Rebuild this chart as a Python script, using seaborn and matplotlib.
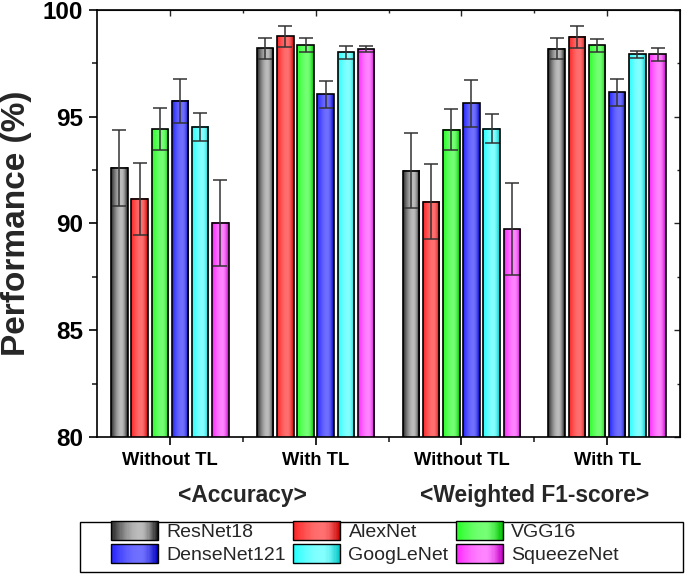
import numpy as np
import pandas as pd
import matplotlib
matplotlib.use("Agg")
import matplotlib.pyplot as plt
from matplotlib.patches import Rectangle, Patch
from matplotlib.legend_handler import HandlerBase
from matplotlib.colors import to_rgb
from matplotlib.ticker import MultipleLocator, FixedLocator
import seaborn as sns

# ---------------- data ----------------
models = ["ResNet18", "AlexNet", "VGG16", "DenseNet121", "GoogLeNet", "SqueezeNet"]
groups = ["Accuracy|Without TL", "Accuracy|With TL", "F1|Without TL", "F1|With TL"]
group_tick_labels = ["Without TL", "With TL", "Without TL", "With TL"]
metric_labels = ["<Accuracy>", "<Weighted F1-score>"]

acc_without_tl = [92.60, 91.15, 94.42, 95.74, 94.52, 90.03]
acc_without_tl_err = [1.80, 1.68, 0.97, 1.02, 0.66, 2.00]
acc_with_tl = [98.20, 98.77, 98.36, 96.05, 98.02, 98.16]
acc_with_tl_err = [0.50, 0.50, 0.32, 0.62, 0.30, 0.15]
f1_without_tl = [92.47, 91.02, 94.39, 95.64, 94.44, 89.74]
f1_without_tl_err = [1.75, 1.75, 0.95, 1.10, 0.69, 2.15]
f1_with_tl = [98.19, 98.75, 98.34, 96.14, 97.92, 97.92]
f1_with_tl_err = [0.50, 0.52, 0.32, 0.63, 0.18, 0.32]

values_by_group = [acc_without_tl, acc_with_tl, f1_without_tl, f1_with_tl]
errors_by_group = [acc_without_tl_err, acc_with_tl_err, f1_without_tl_err, f1_with_tl_err]

# ---------------- styles ----------------
# (left edge, highlight, right edge) for the gradient shading
grad_styles = {
    "ResNet18":    ("#2a2a2a", "#bcbcbc", "#161616"),
    "AlexNet":     ("#ff2424", "#ff7070", "#c80000"),
    "VGG16":       ("#24ff24", "#74ff74", "#00c000"),
    "DenseNet121": ("#2424ff", "#7070ff", "#0000c0"),
    "GoogLeNet":   ("#24ffff", "#84ffff", "#00c4c4"),
    "SqueezeNet":  ("#ff24ff", "#ff84ff", "#c400c4"),
}
mid_colors = ["#888888", "#ff5050", "#50ff50", "#5050ff", "#50ffff", "#ff50ff"]


def gradient_colors(key, n=64, peak=0.62):
    l, p, r = (np.array(to_rgb(c)) for c in grad_styles[key])
    t = np.linspace(0, 1, n)
    out = np.zeros((n, 3))
    for i, ti in enumerate(t):
        if ti <= peak:
            s = np.sin(0.5 * np.pi * ti / peak)
            out[i] = l + (p - l) * s
        else:
            s = np.cos(0.5 * np.pi * (ti - peak) / (1 - peak))
            out[i] = r + (p - r) * s
    return np.clip(out, 0, 1)


rows = []
for g, vals in zip(groups, values_by_group):
    for m, v in zip(models, vals):
        rows.append({"group": g, "model": m, "value": v})
df = pd.DataFrame(rows)

sns.set_style("ticks")
plt.rcParams["font.family"] = ["Liberation Sans", "DejaVu Sans"]

fig = plt.figure(figsize=(6.85, 5.74), dpi=100)
ax = fig.add_axes([97 / 685, 137 / 574, 583 / 685, 427 / 574])

sns.barplot(data=df, x="group", y="value", hue="model", order=groups,
            hue_order=models, palette=mid_colors, width=0.83, gap=0.18,
            errorbar=None, edgecolor="black", linewidth=1.2, ax=ax,
            legend=False)

# gradient fill + error bars
for mi, (container, model) in enumerate(zip(ax.containers, models)):
    cols = gradient_colors(model)
    img = cols[np.newaxis, :, :]
    for gi, bar in enumerate(container):
        x0 = bar.get_x()
        w = bar.get_width()
        h = bar.get_height()
        y0 = bar.get_y()
        ax.imshow(img, extent=[x0, x0 + w, y0, y0 + h], aspect="auto",
                  interpolation="bilinear", zorder=1.5)
        bar.set_facecolor("none")
        bar.set_zorder(2)
        ax.errorbar(x0 + w / 2, h, yerr=errors_by_group[gi][mi], fmt="none",
                    ecolor="#333333", elinewidth=1.1, capsize=4.8,
                    capthick=1.1, zorder=3)

ax.set_xlim(-0.5, 3.5)
ax.set_ylim(80, 100)
ax.set_aspect("auto")

ax.yaxis.set_major_locator(MultipleLocator(5))
ax.yaxis.set_minor_locator(MultipleLocator(2.5))
ax.xaxis.set_major_locator(FixedLocator([0, 1, 2, 3]))
ax.xaxis.set_minor_locator(FixedLocator([0.5, 1.5, 2.5]))
ax.set_xticklabels(group_tick_labels)

for s in ax.spines.values():
    s.set_visible(True)
    s.set_linewidth(1.2)
    s.set_color("black")

ax.tick_params(axis="y", which="major", direction="out", length=6, width=1.2,
               labelsize=17.5, pad=4, colors="black")
ax.tick_params(axis="y", which="minor", direction="out", length=3.5, width=1.2)
ax.tick_params(axis="x", which="major", direction="out", length=6, width=1.2,
               labelsize=13.2, pad=5, colors="black")
ax.tick_params(axis="x", which="minor", direction="out", length=3.5, width=1.2)
for lab in ax.get_yticklabels() + ax.get_xticklabels():
    lab.set_fontweight("bold")

# mirrored inward ticks on top and right
secx = ax.secondary_xaxis("top")
secx.xaxis.set_major_locator(FixedLocator([0, 1, 2, 3]))
secx.xaxis.set_minor_locator(FixedLocator([0.5, 1.5, 2.5]))
secx.tick_params(which="major", direction="in", length=4, width=1.0, labeltop=False)
secx.tick_params(which="minor", direction="in", length=2.5, width=1.0)
secy = ax.secondary_yaxis("right")
secy.yaxis.set_major_locator(MultipleLocator(5))
secy.yaxis.set_minor_locator(MultipleLocator(2.5))
secy.tick_params(which="major", direction="in", length=4, width=1.0, labelright=False)
secy.tick_params(which="minor", direction="in", length=2.5, width=1.0)

ax.set_xlabel("")
ax.set_ylabel("Performance (%)", fontsize=24, fontweight="bold")
ax.yaxis.set_label_coords(-0.112, 0.5)

for xpos, lab in zip([0.5, 2.5], metric_labels):
    ax.text(xpos, -0.138, lab, transform=ax.get_xaxis_transform(),
            ha="center", va="center", fontsize=16.4, fontweight="bold")


# ---------------- legend ----------------
class GradientPatch(Patch):
    def __init__(self, key, **kw):
        super().__init__(**kw)
        self.key = key


class GradientHandler(HandlerBase):
    def create_artists(self, legend, orig_handle, xdescent, ydescent,
                       width, height, fontsize, trans):
        cols = gradient_colors(orig_handle.key, n=40)
        n = len(cols)
        arts = []
        for i, c in enumerate(cols):
            r = Rectangle((-xdescent + i * width / n, -ydescent),
                          width / n * 1.08, height, facecolor=c,
                          edgecolor="none", transform=trans)
            arts.append(r)
        arts.append(Rectangle((-xdescent, -ydescent), width, height,
                              facecolor="none", edgecolor="black",
                              linewidth=1.0, transform=trans))
        return arts


# legend fills column-wise; reorder so rows read as in the reference
ncol = 3
order = [r * ncol + c for c in range(ncol) for r in range(2)]
leg_models = [models[i] for i in order]
handles = [GradientPatch(m, label=m) for m in leg_models]
leg = fig.legend(handles=handles, labels=leg_models, ncol=ncol,
                 handler_map={GradientPatch: GradientHandler()},
                 loc="upper left", bbox_to_anchor=(111 / 685, (574 - 521) / 574),
                 bbox_transform=fig.transFigure, frameon=False, borderpad=0,
                 borderaxespad=0, fontsize=14, handlelength=2.42,
                 handleheight=1.1, handletextpad=0.42, columnspacing=0.38,
                 labelspacing=0.15)

fig.patches.append(Rectangle((80 / 685, 2 / 574), 603 / 685, 50 / 574,
                             transform=fig.transFigure, fill=False,
                             edgecolor="black", linewidth=1.0))

fig.savefig("out.png", dpi=100)
